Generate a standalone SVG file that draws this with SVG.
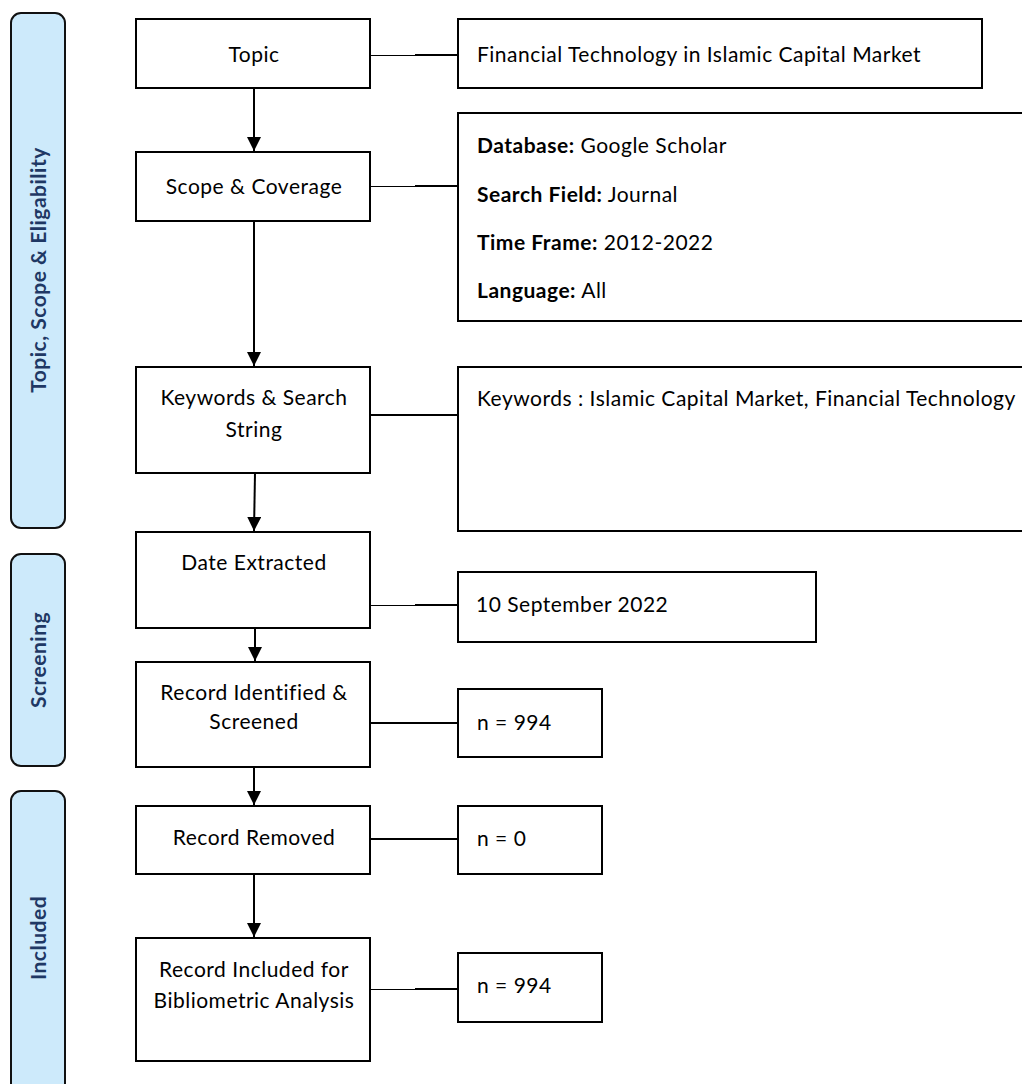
<svg xmlns="http://www.w3.org/2000/svg" width="1022" height="1084" viewBox="0 0 1022 1084">
<defs>
<style>
.box{fill:#fff;stroke:#000;stroke-width:2}
.phase{fill:#cdeafb;stroke:#111;stroke-width:2}
.t{font-family:Lato,"Liberation Sans",sans-serif;font-size:21px;letter-spacing:0.5px;fill:#000}
.c{text-anchor:middle}
.b{font-weight:bold}
.ph{font-family:Lato,"Liberation Sans",sans-serif;font-size:21px;letter-spacing:0.5px;font-weight:bold;fill:#1f3864;text-anchor:middle}
.line{stroke:#000;stroke-width:2;fill:none}
.thin{stroke:#000;stroke-width:1;fill:none}
</style>
<marker id="arr" viewBox="0 0 10 10" refX="10" refY="5" markerWidth="14" markerHeight="14" markerUnits="userSpaceOnUse" orient="auto">
<path d="M0,0 L10,5 L0,10 z" fill="#000"/>
</marker>
</defs>
<rect width="1022" height="1084" fill="#fff"/>

<g id="phase-topic">
<rect class="phase" x="11" y="13" width="54" height="515" rx="10"/>
<text class="ph" transform="translate(46,270) rotate(-90)">Topic, Scope &amp; Eligability</text>
</g>
<g id="phase-screening">
<rect class="phase" x="11" y="554" width="54" height="212" rx="10"/>
<text class="ph" transform="translate(46,660) rotate(-90)">Screening</text>
</g>
<g id="phase-included">
<rect class="phase" x="11" y="791" width="54" height="305" rx="10"/>
<text class="ph" transform="translate(46,938) rotate(-90)">Included</text>
</g>

<g id="connectors">
<line class="line" x1="254" y1="88" x2="254" y2="151" marker-end="url(#arr)"/>
<line class="line" x1="254" y1="221" x2="254" y2="366" marker-end="url(#arr)"/>
<line class="line" x1="255" y1="473" x2="254" y2="531" marker-end="url(#arr)"/>
<line class="line" x1="255" y1="628" x2="255" y2="661" marker-end="url(#arr)"/>
<line class="line" x1="254" y1="768" x2="254" y2="805" marker-end="url(#arr)"/>
<line class="line" x1="254" y1="874" x2="254" y2="937" marker-end="url(#arr)"/>
<line class="thin" x1="370" y1="55.5" x2="415" y2="55.5"/>
<line class="line" x1="415" y1="55" x2="458" y2="55"/>
<line class="thin" x1="370" y1="186.5" x2="415" y2="186.5"/>
<line class="line" x1="415" y1="186" x2="458" y2="186"/>
<line class="line" x1="370" y1="415" x2="458" y2="415"/>
<line class="thin" x1="371" y1="605.5" x2="415" y2="605.5"/>
<line class="line" x1="415" y1="605" x2="458" y2="605"/>
<line class="line" x1="370" y1="723" x2="458" y2="723"/>
<line class="line" x1="370" y1="839" x2="458" y2="839"/>
<line class="thin" x1="370" y1="989.5" x2="415" y2="989.5"/>
<line class="line" x1="415" y1="989" x2="458" y2="989"/>
</g>

<g id="topic">
<rect class="box" x="136" y="19" width="234" height="69"/>
<text class="t c" x="254" y="62">Topic</text>
</g>
<g id="scope">
<rect class="box" x="136" y="152" width="234" height="69"/>
<text class="t c" x="254" y="194">Scope &amp; Coverage</text>
</g>
<g id="keywords">
<rect class="box" x="136" y="367" width="234" height="106"/>
<text class="t c" x="254" y="405">Keywords &amp; Search</text>
<text class="t c" x="254" y="437">String</text>
</g>
<g id="date">
<rect class="box" x="136" y="532" width="234" height="96"/>
<text class="t c" x="254" y="570">Date Extracted</text>
</g>
<g id="identified">
<rect class="box" x="136" y="662" width="234" height="105"/>
<text class="t c" x="254" y="700">Record Identified &amp;</text>
<text class="t c" x="254" y="729">Screened</text>
</g>
<g id="removed">
<rect class="box" x="136" y="806" width="234" height="68"/>
<text class="t c" x="254" y="845">Record Removed</text>
</g>
<g id="included">
<rect class="box" x="136" y="938" width="234" height="123"/>
<text class="t c" x="254" y="977">Record Included for</text>
<text class="t c" x="254" y="1008">Bibliometric Analysis</text>
</g>

<g id="topic-detail">
<rect class="box" x="458" y="19" width="524" height="69"/>
<text class="t" x="477" y="62">Financial Technology in Islamic Capital Market</text>
</g>
<g id="scope-detail">
<rect class="box" x="458" y="113" width="580" height="208"/>
<text class="t" x="477" y="153"><tspan class="b">Database:</tspan> Google Scholar</text>
<text class="t" x="477" y="202"><tspan class="b">Search Field:</tspan> Journal</text>
<text class="t" x="477" y="250"><tspan class="b">Time Frame:</tspan> 2012-2022</text>
<text class="t" x="477" y="298"><tspan class="b">Language:</tspan> All</text>
</g>
<g id="keywords-detail">
<rect class="box" x="458" y="367" width="580" height="164"/>
<text class="t" x="477" y="406">Keywords : Islamic Capital Market, Financial Technology</text>
</g>
<g id="date-detail">
<rect class="box" x="458" y="572" width="358" height="70"/>
<text class="t" x="476" y="612">10 September 2022</text>
</g>
<g id="identified-detail">
<rect class="box" x="458" y="689" width="144" height="68"/>
<text class="t" x="477" y="730">n = 994</text>
</g>
<g id="removed-detail">
<rect class="box" x="458" y="806" width="144" height="68"/>
<text class="t" x="477" y="846">n = 0</text>
</g>
<g id="included-detail">
<rect class="box" x="458" y="953" width="144" height="69"/>
<text class="t" x="477" y="993">n = 994</text>
</g>
</svg>
